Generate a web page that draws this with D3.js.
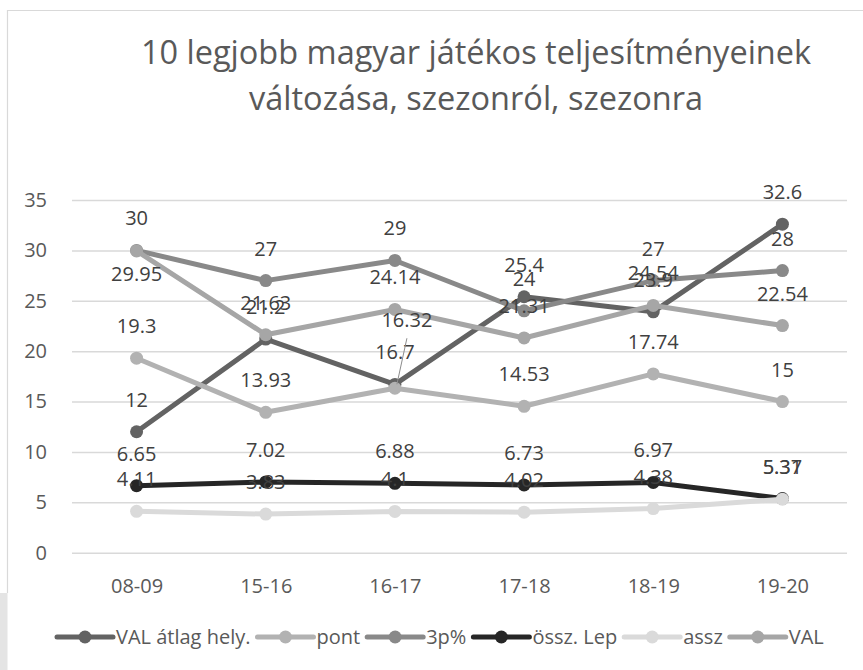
<!DOCTYPE html>
<html>
<head>
<meta charset="utf-8">
<script src="https://cdn.jsdelivr.net/npm/d3@7"></script>
<style>
  body { margin: 0; background: #fff; }
  text { font-family: "Open Sans", sans-serif; }
</style>
</head>
<body>
<div id="chart"></div>
<script>
// chart data
const seasons = ["08-09", "15-16", "16-17", "17-18", "18-19", "19-20"];
const valAtlagHely = [12, 21.2, 16.7, 25.4, 23.9, 32.6];
const pont = [19.3, 13.93, 16.32, 14.53, 17.74, 15];
const harompontos = [30, 27, 29, 24, 27, 28];
const osszLep = [6.65, 7.02, 6.88, 6.73, 6.97, 5.37];
const assz = [4.11, 3.83, 4.1, 4.02, 4.38, 5.31];
const val = [29.95, 21.63, 24.14, 21.31, 24.54, 22.54];
const yTicks = [0, 5, 10, 15, 20, 25, 30, 35];
const titleLines = ["10 legjobb magyar játékos teljesítményeinek", "változása, szezonról, szezonra"];

// series names + colours (legend order = draw order)
const seriesNames = ["VAL átlag hely.", "pont", "3p%", "össz. Lep", "assz", "VAL"];
const seriesColors = ["#636363", "#b2b2b2", "#898989", "#262626", "#dadada", "#a6a6a6"];
const seriesValues = [valAtlagHely, pont, harompontos, osszLep, assz, val];

// labels that were moved by hand in the original
const labelBelow = [{series: 5, cat: 0}];
const labelLifted = [{series: 1, cat: 2}];

const WIDTH = 863, HEIGHT = 670;
const PLOT = {left: 72, right: 847, top: 200, bottom: 552.7};
const FONT = "20px";

const svg = d3.select("#chart").append("svg")
    .attr("width", WIDTH)
    .attr("height", HEIGHT);

// chart frame
svg.append("rect")
    .attr("x", 0).attr("y", 593).attr("width", 7.5).attr("height", HEIGHT - 593)
    .attr("fill", "#e4e4e4");
svg.append("path")
    .attr("d", "M7.5,593 V10.5 H" + WIDTH)
    .attr("fill", "none").attr("stroke", "#d9d9d9").attr("stroke-width", 1.2);

// title
svg.append("text")
    .attr("x", 476).attr("y", 64)
    .attr("text-anchor", "middle")
    .attr("font-size", "32.5px").attr("fill", "#595959")
    .selectAll("tspan")
    .data(titleLines)
    .join("tspan")
      .attr("x", 476)
      .attr("dy", (d, i) => i === 0 ? 0 : 46)
      .text(d => d);

// scales
const x = d3.scalePoint()
    .domain(seasons)
    .range([PLOT.left, PLOT.right])
    .padding(0.5);

const y = d3.scaleLinear()
    .domain([0, 35])
    .range([PLOT.bottom, PLOT.top]);

// gridlines + y labels
const yAxis = svg.append("g")
    .attr("transform", "translate(" + PLOT.left + ",0)")
    .call(d3.axisLeft(y).tickValues(yTicks).tickSize(-(PLOT.right - PLOT.left)).tickPadding(25));
yAxis.select(".domain").remove();
yAxis.selectAll(".tick line").attr("stroke", "#d9d9d9").attr("stroke-width", 1.5);
yAxis.selectAll(".tick text")
    .attr("font-size", FONT).attr("fill", "#595959")
    .style("font-family", "'Open Sans', sans-serif");

// x labels
const xAxis = svg.append("g")
    .attr("transform", "translate(0," + PLOT.bottom + ")")
    .call(d3.axisBottom(x).tickSize(0).tickPadding(26));
xAxis.select(".domain").remove();
xAxis.selectAll(".tick text")
    .attr("font-size", FONT).attr("fill", "#595959")
    .style("font-family", "'Open Sans', sans-serif");

// lines and markers
const line = d3.line()
    .x((d, i) => x(seasons[i]))
    .y(d => y(d));

seriesValues.forEach((vals, s) => {
  const g = svg.append("g");
  g.append("path")
      .datum(vals)
      .attr("d", line)
      .attr("fill", "none")
      .attr("stroke", seriesColors[s])
      .attr("stroke-width", 5)
      .attr("stroke-linejoin", "round")
      .attr("stroke-linecap", "round");
  g.selectAll("circle")
      .data(vals)
      .join("circle")
        .attr("cx", (d, i) => x(seasons[i]))
        .attr("cy", d => y(d))
        .attr("r", 6.5)
        .attr("fill", seriesColors[s]);
});

// data labels (on top of everything)
const labels = svg.append("g");
seriesValues.forEach((vals, s) => {
  vals.forEach((v, i) => {
    let lx = x(seasons[i]);
    let ly = y(v) - 25;
    if (labelBelow.some(o => o.series === s && o.cat === i)) ly = y(v) + 30;
    if (labelLifted.some(o => o.series === s && o.cat === i)) {
      lx += 12;
      ly = y(v) - 61;
      labels.append("line")
          .attr("x1", lx).attr("y1", ly + 11)
          .attr("x2", x(seasons[i]) + 2).attr("y2", y(v) - 4)
          .attr("stroke", "#8c8c8c").attr("stroke-width", 1);
    }
    labels.append("text")
        .attr("x", lx).attr("y", ly)
        .attr("text-anchor", "middle")
        .attr("font-size", FONT).attr("fill", "#404040")
        .text(v);
  });
});

// legend
const legend = svg.append("g").attr("transform", "translate(0,637)");
let lx = 57;
seriesNames.forEach((name, s) => {
  const item = legend.append("g").attr("transform", "translate(" + lx + ",0)");
  item.append("line")
      .attr("x1", 0).attr("x2", 56)
      .attr("stroke", seriesColors[s]).attr("stroke-width", 5)
      .attr("stroke-linecap", "round");
  item.append("circle")
      .attr("cx", 28).attr("r", 6.5)
      .attr("fill", seriesColors[s]);
  const t = item.append("text")
      .attr("x", 59).attr("y", 7)
      .attr("font-size", FONT).attr("fill", "#595959")
      .text(name);
  lx += 59 + t.node().getComputedTextLength() + 7;
});
</script>
</body>
</html>
